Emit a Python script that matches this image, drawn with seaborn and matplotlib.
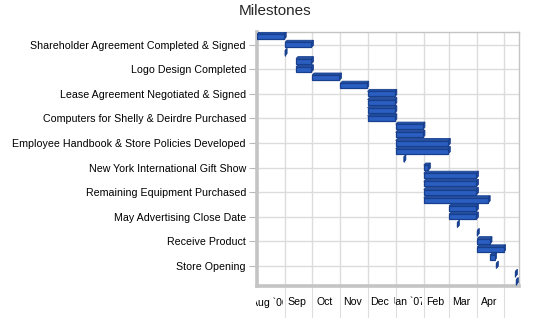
import matplotlib
matplotlib.use("Agg")
import matplotlib.dates as mdates
import matplotlib.pyplot as plt
import numpy as np
import seaborn as sns
from matplotlib.patches import Polygon
from matplotlib.transforms import Bbox, TransformedBbox, blended_transform_factory

# --- dane ---
STARTS = [
    "2006-08-01", "2006-09-01", "2006-09-01", "2006-09-13", "2006-09-13",
    "2006-10-01", "2006-11-01", "2006-12-01", "2006-12-01", "2006-12-01",
    "2006-12-01", "2007-01-01", "2007-01-01", "2007-01-01", "2007-01-01",
    "2007-01-10", "2007-02-01", "2007-02-01", "2007-02-01", "2007-02-01",
    "2007-02-01", "2007-03-01", "2007-03-01", "2007-03-10", "2007-04-01",
    "2007-04-01", "2007-04-01", "2007-04-15", "2007-04-22", "2007-05-13",
    "2007-05-14",
]
ENDS = [
    "2006-08-31", "2006-09-30", "2006-09-01", "2006-09-30", "2006-09-30",
    "2006-10-31", "2006-11-30", "2006-12-31", "2006-12-31", "2006-12-31",
    "2006-12-31", "2007-01-31", "2007-01-31", "2007-02-28", "2007-02-28",
    "2007-01-10", "2007-02-06", "2007-03-31", "2007-03-31", "2007-03-31",
    "2007-04-13", "2007-03-31", "2007-03-31", "2007-03-10", "2007-04-01",
    "2007-04-15", "2007-04-30", "2007-04-20", "2007-04-22", "2007-05-13",
    "2007-05-14",
]
LABELS = [
    "Shareholder Agreement Completed & Signed",
    "Logo Design Completed",
    "Lease Agreement Negotiated & Signed",
    "Computers for Shelly & Deirdre Purchased",
    "Employee Handbook & Store Policies Developed",
    "New York International Gift Show",
    "Remaining Equipment Purchased",
    "May Advertising Close Date",
    "Receive Product",
    "Store Opening",
]
LABEL_ROWS = [1, 4, 7, 10, 13, 16, 19, 22, 25, 28]
MONTH_EDGES = [
    "2006-08-01", "2006-09-01", "2006-10-01", "2006-11-01", "2006-12-01",
    "2007-01-01", "2007-02-01", "2007-03-01", "2007-04-01", "2007-05-01",
]
MONTH_LABELS = ["Aug `06", "Sep", "Oct", "Nov", "Dec", "Jan `07", "Feb", "Mar", "Apr"]
X_START, X_END = "2006-08-01", "2007-05-17"

# --- wygląd ---
FACE = "#2a5ec0"
EDGE = "#183f8e"
TOP = "#2453a8"
SIDE = "#1b4596"
GRID = "#dcdcdc"
WALL = "#c4c4c4"
BAR_H = 0.62
DEPTH_X = 2.2   # dni
DEPTH_Y = 0.25  # wiersze

sns.set_theme(style="whitegrid")
plt.rcParams["font.family"] = ["Liberation Sans", "DejaVu Sans"]

fig = plt.figure(figsize=(5.5, 3.18), dpi=100)
ax = fig.add_axes([257 / 550, 1 - 286 / 318, 262 / 550, 254 / 318])

starts = mdates.datestr2num(STARTS)
ends = mdates.datestr2num(ENDS)
rows = np.arange(len(STARTS))

# boki "3D" słupków (góra i prawa ściana)
for s, e, c in zip(starts, ends, rows):
    top_y = c - BAR_H / 2
    bot_y = c + BAR_H / 2
    ax.add_patch(Polygon([(s, top_y), (e, top_y), (e + DEPTH_X, top_y - DEPTH_Y),
                          (s + DEPTH_X, top_y - DEPTH_Y)],
                         closed=True, facecolor=TOP, edgecolor=EDGE, lw=0.6, zorder=3))
    ax.add_patch(Polygon([(e, top_y), (e, bot_y), (e + DEPTH_X, bot_y - DEPTH_Y),
                          (e + DEPTH_X, top_y - DEPTH_Y)],
                         closed=True, facecolor=SIDE, edgecolor=EDGE, lw=0.6, zorder=3))

ax.barh(rows, ends - starts, left=starts, height=BAR_H, color=FACE,
        edgecolor=EDGE, linewidth=0.9, zorder=4)

ax.set_xlim(mdates.datestr2num(X_START), mdates.datestr2num(X_END))
ax.set_ylim(30.47, -0.57)

edges = mdates.datestr2num(MONTH_EDGES)
ax.set_xticks(edges[1:])
ax.set_xticklabels([])
ax.set_yticks(LABEL_ROWS)
ax.set_yticklabels(LABELS, fontsize=7.65, color="black")

ax.grid(True, color=GRID, linewidth=1)
ax.set_axisbelow(True)
ax.tick_params(axis="y", length=6, width=0.8, color="#b8b8b8", pad=2, left=True)
ax.tick_params(axis="x", length=24, width=0.8, color="#dedede", bottom=True)

for side in ["top", "right"]:
    ax.spines[side].set_color(WALL)
    ax.spines[side].set_linewidth(1)
ax.spines["left"].set_color(WALL)
ax.spines["left"].set_linewidth(2.6)
ax.spines["bottom"].set_color(WALL)
ax.spines["bottom"].set_linewidth(2.6)

# etykiety miesięcy przycięte do szerokości komórki
trans = blended_transform_factory(ax.transData, ax.transAxes)
for lab, a, b in zip(MONTH_LABELS, edges[:-1], edges[1:]):
    a2, b2 = a - 2, b - 2
    t = ax.text((a2 + b2) / 2, -0.045, lab, transform=trans, ha="center", va="top",
                fontsize=7.6, color="black")
    t.set_clip_path(None)
    t.set_clip_box(TransformedBbox(Bbox([[a2 + 0.5, -0.5], [b2 - 0.5, 0]]), trans))
    t.set_clip_on(True)

fig.text(0.5, 1 - 11 / 318, "Milestones", ha="center", va="center", fontsize=11)

fig.savefig("out.png", dpi=100, facecolor="white")
